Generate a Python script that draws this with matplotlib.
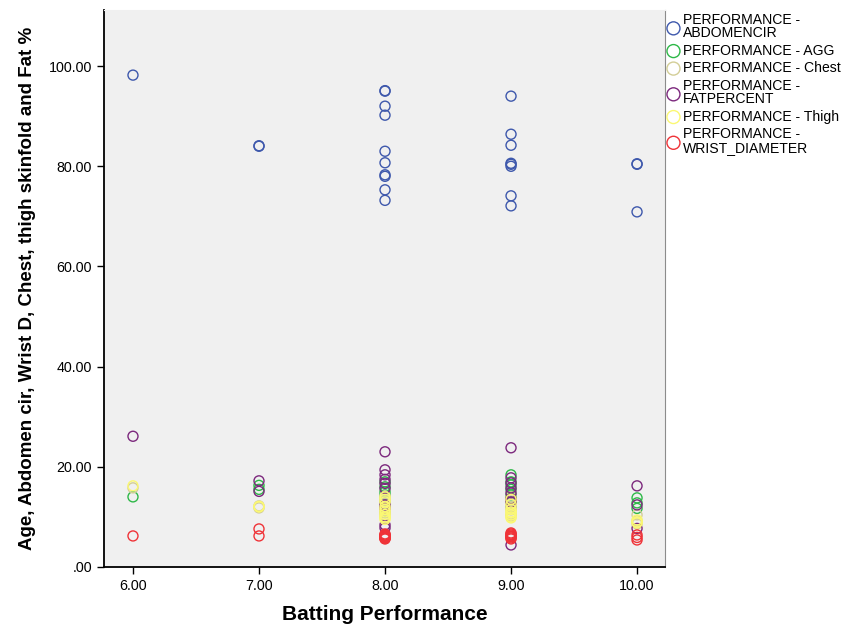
import matplotlib
matplotlib.use("Agg")
import matplotlib.pyplot as plt
from matplotlib.ticker import FuncFormatter

plt.rcParams['font.family'] = ['Liberation Sans', 'DejaVu Sans']

# batting performance score of each player
performance = [6,
               7, 7,
               8, 8, 8, 8, 8, 8, 8, 8, 8, 8,
               9, 9, 9, 9, 9, 9, 9, 9,
               10, 10, 10]

abdomen = [98.2,
           84.0, 84.1,
           95.1, 95.0, 92.0, 90.2, 83.0, 80.7, 78.0, 78.3, 75.3, 73.2,
           94.0, 86.4, 84.2, 80.0, 80.6, 80.4, 74.1, 72.1,
           80.4, 80.5, 70.9]
agg = [14.0,
       16.3, 15.5,
       14.4, 13.0, 12.0, 15.0, 16.0, 17.0, 14.0, 13.5, 12.5, 11.0,
       18.4, 16.4, 14.4, 15.5, 13.0, 17.0, 12.0, 14.0,
       13.8, 11.7, 12.8]
chest = [15.8,
         12.2, 11.8,
         13.8, 13.2, 12.4, 11.6, 10.8, 14.2, 12.8, 10.2, 11.2, 13.6,
         12.6, 11.4, 10.6, 13.2, 12.0, 14.0, 10.2, 11.8,
         9.2, 8.6, 10.4]
fatpercent = [26.1,
              17.2, 15.1,
              23.0, 19.4, 18.4, 17.5, 16.7, 15.7, 12.4, 11.8, 8.4, 7.8,
              23.8, 17.8, 16.8, 15.8, 14.8, 13.6, 13.0, 4.4,
              16.2, 12.4, 7.7]
thigh = [16.2,
         12.0, 12.1,
         14.0, 13.0, 9.8, 10.5, 12.0, 11.0, 13.5, 10.0, 9.5, 11.5,
         11.0, 9.8, 10.4, 12.5, 11.5, 10.0, 13.5, 10.8,
         9.4, 8.8, 9.0]
wrist = [6.2,
         7.6, 6.2,
         6.4, 5.8, 6.0, 6.2, 5.6, 6.6, 5.9, 6.1, 6.3, 5.7,
         6.8, 6.0, 6.4, 5.8, 6.2, 6.6, 5.6, 6.1,
         6.4, 5.4, 5.9]

series = [
    ("PERFORMANCE -\nABDOMENCIR", abdomen, "#3E58AC"),
    ("PERFORMANCE - AGG", agg, "#2EB848"),
    ("PERFORMANCE - Chest", chest, "#D3CE97"),
    ("PERFORMANCE -\nFATPERCENT", fatpercent, "#7C287D"),
    ("PERFORMANCE - Thigh", thigh, "#FBF873"),
    ("PERFORMANCE -\nWRIST_DIAMETER", wrist, "#EF3338"),
]

fig = plt.figure(figsize=(8.49, 6.25), dpi=100)
ax = fig.add_axes([0.1225, 0.0928, 0.6605, 0.8912])
ax.set_facecolor("#F0F0F0")

for label, vals, col in series:
    ax.scatter(performance, vals, s=52, facecolors="none", edgecolors=col,
               linewidths=1.0, label=label)

ax.set_xlim(5.77, 10.22)
ax.set_ylim(0, 111.2)
ax.set_xticks([6, 7, 8, 9, 10])
ax.set_yticks([0, 20, 40, 60, 80, 100])


def fmt(v, pos):
    s = "%.2f" % v
    return s[1:] if s.startswith("0") else s


ax.xaxis.set_major_formatter(FuncFormatter(fmt))
ax.yaxis.set_major_formatter(FuncFormatter(fmt))
ax.tick_params(labelsize=10.3, length=5, width=1, direction="out", color="black")

for side in ["left", "bottom"]:
    ax.spines[side].set_linewidth(1.3)
    ax.spines[side].set_color("black")
ax.spines["right"].set_color("#8C8C8C")
ax.spines["top"].set_color("#F0F0F0")
ax.tick_params(top=False, right=False)

ax.set_xlabel("Batting Performance", fontsize=15, fontweight="bold", labelpad=9)
ax.set_ylabel("Age, Abdomen cir, Wrist D, Chest, thigh skinfold and Fat %",
              fontsize=13.5, fontweight="bold", labelpad=9)

leg = ax.legend(loc="upper left", bbox_to_anchor=(0.998, 1.0), frameon=False,
                fontsize=10.1, handletextpad=0.15, handlelength=1.0,
                labelspacing=0.25, borderaxespad=0.0, borderpad=0.2,
                markerscale=1.3)
for t in leg.get_texts():
    t.set_linespacing(0.95)

fig.savefig("out.png", dpi=100)
